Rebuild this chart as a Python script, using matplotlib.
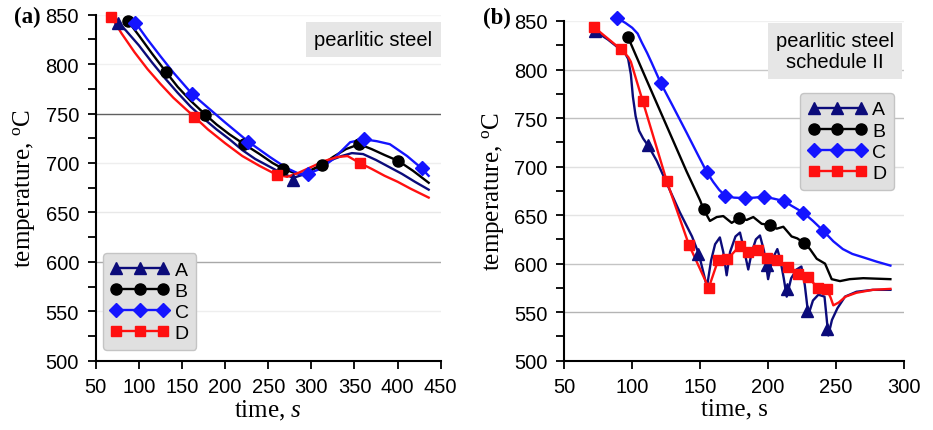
import matplotlib
matplotlib.use("Agg")
import matplotlib.pyplot as plt
from matplotlib.lines import Line2D
from matplotlib.ticker import MultipleLocator

plt.rcParams["font.family"] = ["Liberation Sans", "DejaVu Sans"]
plt.rcParams["mathtext.fontset"] = "custom"
plt.rcParams["mathtext.rm"] = "Liberation Serif"
plt.rcParams["mathtext.it"] = "Liberation Serif:italic"
plt.rcParams["mathtext.bf"] = "Liberation Serif:bold"

series_labels = ["A", "B", "C", "D"]

# ---------------- (a) pearlitic steel ----------------
a_time_A = [75, 85, 100, 115, 130, 145, 160, 175, 190, 205, 220, 235, 250, 265, 279,
            290, 305, 320, 335, 347, 360, 375, 390, 405, 420, 436]
a_temp_A = [843, 834, 819, 802, 786, 771, 757, 745, 734, 724, 713, 704, 697, 690, 685,
            688, 695, 702, 707, 710, 709, 703, 696, 689, 681, 673]
a_mark_time_A = [76, 279]
a_mark_temp_A = [842, 683]

a_time_B = [87, 100, 115, 131.5, 145, 160, 177, 190, 205, 222, 240, 255, 267.5, 280,
            290, 300, 312, 325, 340, 355.5, 370, 385, 401, 418, 436]
a_temp_B = [844, 829, 811, 792, 777, 763, 749, 739, 729, 719, 709, 700, 694, 690,
            689, 693, 698, 706, 714, 719, 714, 708, 702, 692, 680]
a_mark_time_B = [87, 131.5, 177, 222, 267.5, 312, 355.5, 401]
a_mark_temp_B = [844, 792, 749, 719, 694, 698, 719, 702]

a_time_C = [96, 110, 125, 140, 161.5, 180, 200, 227, 252, 271, 287, 296, 310, 325.5,
            345, 361, 376, 391, 411, 428, 436]
a_temp_C = [842, 825, 808, 791.5, 770, 756, 741, 721.5, 706, 695, 688.5, 689, 694, 704,
            721, 724, 722, 719, 707, 694.5, 687]
a_mark_time_C = [96, 161.5, 227, 296, 361, 428]
a_mark_temp_C = [842, 770, 721.5, 689, 724, 694.5]

a_time_D = [68, 80, 95, 110, 125, 140, 155, 164, 180, 200, 220, 240, 260, 272, 285,
            300, 315, 330, 342, 356, 370, 385, 400, 415, 436]
a_temp_D = [848, 831, 812, 795, 780, 766, 754, 747, 734, 720, 707, 697, 688, 686, 690,
            696, 702, 706, 707, 700, 694, 687, 681, 674, 665]
a_mark_time_D = [68, 164, 260, 356]
a_mark_temp_D = [848, 747, 688, 700]

# ---------------- (b) pearlitic steel, schedule II ----------------
b_time_A = [72, 82, 91, 95, 97, 99, 100.5, 102.5, 105, 108, 112, 118, 125, 135, 144,
            149, 152, 155, 158, 161, 164.5, 167, 169.5, 172, 176, 179.3, 182, 185.4,
            188, 191, 194, 197, 200, 203, 206.8, 209, 211.5, 213.7, 217, 221, 224.5,
            227, 229.6, 233, 237, 241.5, 243, 244.3, 247, 251, 256.6, 265, 277, 290]
b_temp_A = [840, 831, 821, 816, 811, 795, 772, 752, 737, 729, 721, 706, 684, 653, 628,
            610, 593, 576, 603, 620, 627, 612, 588, 612, 628, 632, 616, 594,
            612, 625, 629, 613, 584, 604, 615, 604, 585, 566, 585, 594, 597,
            578, 547, 562, 568, 566, 545, 526, 542, 554, 566, 571, 573, 573]
b_mark_time_A = [72.5, 111.8, 148.1, 198.9, 213.6, 228.8, 243.6]
b_mark_temp_A = [840, 722.6, 610, 599, 574, 551.5, 532.7]

b_time_B = [97, 110, 125, 140, 150, 152.5, 157.2, 162.2, 167, 173.2, 178.8, 184.2,
            189.1, 195.3, 201.4, 206.3, 211.2, 217.3, 221.5, 226.6, 230.8, 235.8,
            241.9, 246.8, 252.9, 260, 270, 280, 290]
b_temp_B = [833, 791, 743, 695, 665, 656, 644, 648, 649, 642, 647, 645,
            648, 641, 640, 636, 638, 628, 626, 621, 615, 605,
            600, 584, 582, 584, 585, 584.5, 584]
b_mark_time_B = [97, 152.5, 178.8, 201.4, 226.6]
b_mark_temp_B = [833, 656, 647, 640, 621]

b_time_C = [89, 95, 100, 104, 107, 111, 114.3, 121, 130, 140, 148, 155, 159.7, 164,
            168.5, 175, 183, 190, 197, 204, 211.5, 218, 226, 233, 240.5, 248, 255,
            262, 270, 280, 290]
b_temp_C = [853, 848, 843, 837, 828, 817, 807, 786, 762, 735, 713, 694, 684, 676,
            670, 668, 667.5, 668, 669, 667, 664.5, 659, 652.5, 644, 634, 623, 615,
            610, 606.5, 602, 598]
b_mark_time_C = [89, 121, 155, 168.5, 183, 197, 211.5, 226, 240.5]
b_mark_temp_C = [853, 786, 694, 670, 667.5, 669, 664.5, 652.5, 634]

b_time_D = [72, 91.5, 97, 99, 107.6, 125.3, 141.7, 156.3, 163.3, 170, 179.3, 185.4,
            192.8, 199.4, 206.8, 214.4, 222, 229.6, 236.5, 243, 246, 248, 252, 257,
            265, 277, 290]
b_temp_D = [843.5, 821, 813, 808, 768, 685.5, 619.5, 575, 604, 604.5, 618.5, 612,
            614, 606, 604, 597, 589.5, 586, 575, 574, 565, 557, 560, 566,
            570, 573, 574]
b_mark_time_D = [72, 91.5, 107.6, 125.3, 141.7, 156.3, 163.3, 170, 179.3, 185.4,
                 192.8, 199.4, 206.8, 214.4, 222, 229.6, 236.5, 243]
b_mark_temp_D = [843.5, 821, 768, 685.5, 619.5, 575, 604, 604.5, 618.5, 612,
                 614, 606, 604, 597, 589.5, 586, 575, 574]

colors = {"A": "#0b0b7a", "B": "#000000", "C": "#1414ff", "D": "#ff1010"}
markers = {"A": "^", "B": "o", "C": "D", "D": "s"}
msizes = {"A": 8.5, "B": 8, "C": 7.5, "D": 7.5}

fig = plt.figure(figsize=(9.33, 4.31), dpi=100)
ax1 = fig.add_axes([0.1026, 0.1608, 0.3698, 0.8028])
ax2 = fig.add_axes([0.6048, 0.1608, 0.3641, 0.7882])


def style_axes(ax, xmax, xticks, grid_colors, xlabel):
    ax.set_xlim(50, xmax)
    ax.set_ylim(500, 850)
    for side in ("top", "right"):
        ax.spines[side].set_visible(False)
    for side in ("left", "bottom"):
        ax.spines[side].set_linewidth(1.5)
    ax.set_xticks(xticks)
    ax.set_yticks(list(range(500, 851, 50)))
    ax.yaxis.set_minor_locator(MultipleLocator(25))
    ax.tick_params(axis="both", which="major", direction="out", length=6,
                   width=1.3, labelsize=14.5, pad=6)
    ax.tick_params(axis="y", which="minor", direction="out", length=6, width=1.3)
    ax.yaxis.grid(True, linewidth=1.0)
    for line, c in zip(ax.get_ygridlines(), grid_colors):
        line.set_color(c)
    ax.set_axisbelow(True)
    ax.set_xlabel(xlabel, family="Liberation Serif", fontsize=18, labelpad=1)
    ax.set_ylabel("temperature, $^{\\rm o}$C", family="Liberation Serif",
                  fontsize=18, labelpad=6)


def draw_series(ax, name, t, y, mt, my):
    ax.plot(t, y, color=colors[name], lw=1.7, zorder=3)
    ax.plot(mt, my, ls="none", marker=markers[name], ms=msizes[name],
            color=colors[name], mec=colors[name], zorder=4)


def add_legend(ax, anchor, loc):
    handles = [Line2D([], [], color=colors[n], lw=1.7, marker=markers[n],
                      ms=msizes[n], mec=colors[n]) for n in series_labels]
    leg = ax.legend(handles, series_labels, loc=loc, bbox_to_anchor=anchor,
                    numpoints=3, handlelength=3.0, handletextpad=0.3,
                    labelspacing=0.18, borderpad=0.4, borderaxespad=0,
                    fontsize=14, fancybox=True, framealpha=1)
    leg.get_frame().set_facecolor("#e0e0e0")
    leg.get_frame().set_edgecolor("#c4c4c4")
    leg.set_zorder(6)


style_axes(ax1, 450, list(range(50, 451, 50)),
           ["none", "#eeeeee", "#a8a8a8", "#e8e8e8", "#eeeeee", "#606060", "#f0f0f0", "#f4f4f4"],
           "time, $\\it{s}$")
style_axes(ax2, 300, list(range(50, 301, 50)),
           ["none", "#b4b4b4", "#c4c4c4", "#e4e4e4", "#e0e0e0", "#c0c0c0", "#c8c8c8", "#f0f0f0"],
           "time, s")

draw_series(ax1, "A", a_time_A, a_temp_A, a_mark_time_A, a_mark_temp_A)
draw_series(ax1, "B", a_time_B, a_temp_B, a_mark_time_B, a_mark_temp_B)
draw_series(ax1, "C", a_time_C, a_temp_C, a_mark_time_C, a_mark_temp_C)
draw_series(ax1, "D", a_time_D, a_temp_D, a_mark_time_D, a_mark_temp_D)

draw_series(ax2, "A", b_time_A, b_temp_A, b_mark_time_A, b_mark_temp_A)
draw_series(ax2, "B", b_time_B, b_temp_B, b_mark_time_B, b_mark_temp_B)
draw_series(ax2, "C", b_time_C, b_temp_C, b_mark_time_C, b_mark_temp_C)
draw_series(ax2, "D", b_time_D, b_temp_D, b_mark_time_D, b_mark_temp_D)

for ax in (ax1, ax2):
    for ln in ax.lines:
        ln.set_clip_on(False)

add_legend(ax1, (0.02, 0.032), "lower left")
add_legend(ax2, (0.971, 0.788), "upper right")

box = dict(boxstyle="square,pad=0.4", fc="#e6e6e6", ec="none")
ax1.text(0.805, 0.928, "pearlitic steel", transform=ax1.transAxes, ha="center",
         va="center", fontsize=14.5, bbox=box, zorder=6)
ax2.text(0.797, 0.911, "pearlitic steel\nschedule II", transform=ax2.transAxes,
         ha="center", va="center", multialignment="center", fontsize=14.5,
         linespacing=1.1, bbox=box, zorder=6)

fig.text(0.029, 0.96, "(a)", family="Liberation Serif", weight="bold",
         fontsize=16.5, ha="center", va="center")
fig.text(0.5324, 0.957, "(b)", family="Liberation Serif", weight="bold",
         fontsize=16.5, ha="center", va="center")

fig.savefig("out.png", dpi=100)
